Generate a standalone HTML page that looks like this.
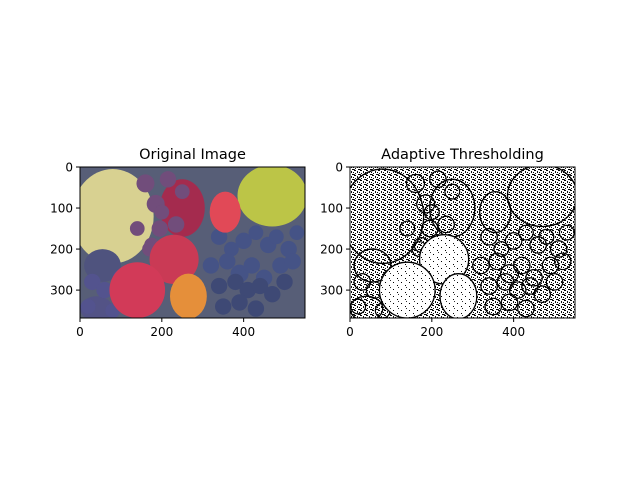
<!DOCTYPE html>
<html><head><meta charset="utf-8"><style>
body{margin:0;background:#fff;font-family:"Liberation Sans","DejaVu Sans",sans-serif}
svg{display:block}
text{font-family:"DejaVu Sans","Liberation Sans",sans-serif}
</style></head><body>
<svg id="fig" width="640" height="480">
<defs>
<pattern id="speck" width="6" height="5" patternUnits="userSpaceOnUse">
<rect width="6" height="5" fill="#fff"/>
<rect x="0" y="0" width="2" height="1" fill="#000"/>
<rect x="3" y="1" width="1" height="2" fill="#111"/>
<rect x="5" y="2" width="1" height="1" fill="#000"/>
<rect x="1" y="3" width="1" height="1" fill="#111"/>
<rect x="4" y="4" width="2" height="1" fill="#000"/>
<rect x="0" y="4" width="1" height="1" fill="#333"/>
</pattern>
<pattern id="speck2" width="8" height="7" patternUnits="userSpaceOnUse">
<rect width="8" height="7" fill="#fff"/>
<rect x="1" y="2" width="1" height="1" fill="#000"/>
<rect x="5" y="5" width="1" height="1" fill="#000"/>
<rect x="6" y="0" width="1" height="1" fill="#333"/>
</pattern>
<clipPath id="clipL"><rect x="80" y="167" width="225" height="151"/></clipPath>
<clipPath id="clipR"><rect x="350" y="167" width="225" height="151"/></clipPath>
</defs>
<g id="left" clip-path="url(#clipL)"></g>
<g id="right" clip-path="url(#clipR)"></g>
<g id="axes"></g>
</svg>
<script>
const imgW = 550, imgH = 368;
const xTicks = [0, 200, 400];
const yTicks = [0, 100, 200, 300];
const titles = ["Original Image", "Adaptive Thresholding"];
const fruitCx = [80, 470, 250, 355, 230, 140, 265, 55, 40];
const fruitCy = [120, 70, 100, 110, 225, 300, 315, 240, 345];
const fruitRx = [100, 85, 55, 38, 60, 68, 45, 45, 40];
const fruitRy = [115, 75, 70, 50, 60, 68, 55, 40, 30];
const fruitCol = ["#d6cf8c", "#b9c23e", "#a02045", "#e0404e", "#c8304c", "#d03050", "#e48a30", "#464a78", "#4a4a80"];
const grapeX = [160, 215, 185, 250, 235, 195, 175, 220, 340, 370, 400, 430, 460, 480, 510, 530, 320, 360, 390, 420, 450, 490, 520, 340, 380, 410, 440, 470, 500, 350, 390, 430, 30, 60, 100, 20, 80, 170, 140, 200];
const grapeY = [40, 30, 90, 60, 140, 150, 190, 190, 170, 200, 180, 160, 190, 170, 200, 160, 240, 230, 260, 240, 270, 240, 230, 290, 280, 300, 290, 310, 280, 340, 330, 345, 280, 300, 270, 340, 350, 200, 150, 110];
const grapeR = [22, 20, 22, 18, 20, 20, 18, 18, 20, 18, 20, 18, 20, 18, 20, 18, 20, 20, 22, 20, 20, 20, 20, 20, 20, 20, 20, 20, 20, 20, 20, 20, 20, 20, 20, 18, 18, 18, 18, 18];
const grapeCol = ["#6a4474","#6a4474","#6a4474","#6a4474","#6a4474","#6a4474","#6a4474","#6a4474","#3c4a80","#3c4a80","#3c4a80","#3c4a80","#3c4a80","#3c4a80","#3c4a80","#3c4a80","#3c4a80","#3c4a80","#3c4a80","#3c4a80","#3c4a80","#3c4a80","#3c4a80","#34406e","#34406e","#34406e","#34406e","#34406e","#34406e","#34406e","#34406e","#34406e","#4a4a88","#4a4a88","#4a4a88","#4a4a88","#4a4a88","#6a4474","#6a4474","#6a4474"];
const NS = "http://www.w3.org/2000/svg";
const panels = [{x0:80},{x0:350}];
const y0 = 167, pw = 225, ph = 151;
function sx(p, v){ return panels[p].x0 + v / imgW * pw; }
function sy(v){ return y0 + v / imgH * ph; }
function el(tag, attrs, parent){ const e = document.createElementNS(NS, tag); for (const k in attrs) e.setAttribute(k, attrs[k]); parent.appendChild(e); return e; }
const L = document.getElementById('left'), R = document.getElementById('right'), A = document.getElementById('axes');
let bg = el('rect', {x:80, y:167, width:225, height:151, fill:'#4e5670'}, L);


let bgR = el('rect', {x:350, y:167, width:225, height:151, fill:'url(#speck)'}, R);


function drawFruit(i){
  const e = el('ellipse', {cx:sx(0,fruitCx[i]), cy:sy(fruitCy[i]), rx:fruitRx[i]/imgW*pw, ry:fruitRy[i]/imgH*ph, fill:fruitCol[i]}, L);
  
  
  const o = el('ellipse', {cx:sx(1,fruitCx[i]), cy:sy(fruitCy[i]), rx:fruitRx[i]/imgW*pw, ry:fruitRy[i]/imgH*ph, fill:(i===5||i===6||i===4)?'url(#speck2)':'none', stroke:'#000', 'stroke-width':1.3}, R);
  
  
}
function drawGrape(i){
  const g = el('circle', {cx:sx(0,grapeX[i]), cy:sy(grapeY[i]), r:grapeR[i]/imgW*pw, fill:grapeCol[i]}, L);
  
  
  const o = el('circle', {cx:sx(1,grapeX[i]), cy:sy(grapeY[i]), r:grapeR[i]/imgW*pw, fill:'none', stroke:'#000', 'stroke-width':1.2}, R);
  
  
}
[0,1,2,7,8].forEach(drawFruit);
for (let i = 0; i < grapeX.length; i++) drawGrape(i);
[3,4,5,6].forEach(drawFruit);
// subtle highlights on left
let sh = el('rect', {x:80, y:167, width:225, height:151, fill:'#ffffff', opacity:0.05}, L);


for (let p = 0; p < 2; p++){
  const fr = el('rect', {x:panels[p].x0, y:y0, width:pw, height:ph, fill:'none', stroke:'#000', 'stroke-width':1}, A);
  
  
  const t = el('text', {x:panels[p].x0 + pw/2, y:159, 'text-anchor':'middle', 'font-size':14.5}, A);
  t.textContent = titles[p];
  
  
  xTicks.forEach(v => {
    const x = sx(p, v);
    el('line', {x1:x, x2:x, y1:y0+ph, y2:y0+ph+4, stroke:'#000'}, A);
    const tx = el('text', {x:x, y:y0+ph+18, 'text-anchor':'middle', 'font-size':12}, A);
    tx.textContent = v;
    
    
  });
  yTicks.forEach(v => {
    const y = sy(v);
    el('line', {x1:panels[p].x0-4, x2:panels[p].x0, y1:y, y2:y, stroke:'#000'}, A);
    const ty = el('text', {x:panels[p].x0-7, y:y+4.5, 'text-anchor':'end', 'font-size':12}, A);
    ty.textContent = v;
    
    
  });
}
</script>
</body></html>
